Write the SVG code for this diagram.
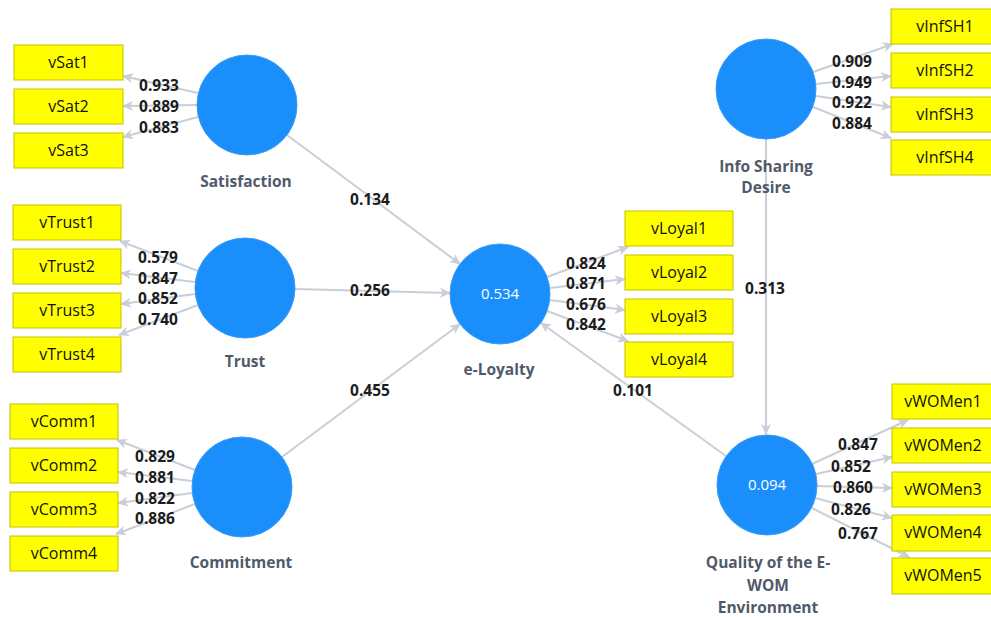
<svg xmlns="http://www.w3.org/2000/svg" width="991" height="617" viewBox="0 0 991 617">
<defs>
<style>
.bg{fill:#ffffff}
.lv circle{fill:#1a8ffc;stroke:#3a9cf5;stroke-width:1}
.lv .name{font-family:"Open Sans","Noto Sans",sans-serif;font-size:15.5px;font-weight:bold;fill:#4f5a6b;text-anchor:middle}
.lv .r2{font-family:"Open Sans","Noto Sans",sans-serif;font-size:15px;fill:#ffffff;text-anchor:middle}
.ind rect{fill:#ffff00;stroke:#c2c200;stroke-width:1}
.ind text{font-family:"Open Sans","Noto Sans",sans-serif;font-size:16px;fill:#111111;text-anchor:middle}
.edges line{stroke:#c9ced8;stroke-width:2;marker-end:url(#ah)}
.lbl text{font-family:"Open Sans","Noto Sans",sans-serif;font-size:15.5px;font-weight:bold;fill:#1c1c1c;text-anchor:middle}
</style>
<marker id="ah" markerWidth="12" markerHeight="10" refX="10" refY="5" orient="auto" markerUnits="userSpaceOnUse">
<path d="M0,0 L11,5 L0,10 L3,5 Z" fill="#c9ced8"/>
</marker>
</defs>
<rect class="bg" x="0" y="0" width="991" height="617"/>

<g id="connectors" class="edges">
<!-- structural paths -->
<line x1="287" y1="135" x2="460" y2="264"/>
<line x1="295" y1="289" x2="450" y2="293"/>
<line x1="282" y1="457" x2="460" y2="324"/>
<line x1="726" y1="456" x2="541" y2="323"/>
<line x1="766" y1="139" x2="766" y2="434"/>
<!-- Satisfaction loadings -->
<line x1="198" y1="93" x2="123" y2="76"/>
<line x1="197" y1="105" x2="123" y2="106"/>
<line x1="198" y1="117" x2="123" y2="137"/>
<!-- Trust loadings -->
<line x1="198" y1="271" x2="120" y2="241"/>
<line x1="195" y1="282" x2="121" y2="273"/>
<line x1="195" y1="294" x2="121" y2="304"/>
<line x1="198" y1="305" x2="119" y2="335"/>
<!-- Commitment loadings -->
<line x1="195" y1="470" x2="117" y2="440"/>
<line x1="192" y1="481" x2="118" y2="472"/>
<line x1="192" y1="493" x2="118" y2="503"/>
<line x1="195" y1="504" x2="116" y2="534"/>
<!-- e-Loyalty loadings -->
<line x1="547" y1="277" x2="628" y2="247"/>
<line x1="550" y1="288" x2="625" y2="279"/>
<line x1="550" y1="300" x2="625" y2="310"/>
<line x1="547" y1="311" x2="628" y2="341"/>
<!-- Info Sharing loadings -->
<line x1="813" y1="72" x2="893" y2="44"/>
<line x1="816" y1="84" x2="891" y2="76"/>
<line x1="816" y1="96" x2="891" y2="107"/>
<line x1="813" y1="107" x2="891" y2="138"/>
<!-- Quality loadings -->
<line x1="812" y1="464" x2="908" y2="420"/>
<line x1="816" y1="474" x2="892" y2="457"/>
<line x1="817" y1="486" x2="892" y2="488"/>
<line x1="815" y1="498" x2="892" y2="518"/>
<line x1="812" y1="508" x2="909" y2="557"/>
</g>

<g id="edge-labels" class="lbl">
<text x="370" y="205">0.134</text>
<text x="370" y="296">0.256</text>
<text x="370" y="396">0.455</text>
<text x="633" y="396">0.101</text>
<text x="765" y="294">0.313</text>
<text x="159" y="91">0.933</text>
<text x="159" y="112">0.889</text>
<text x="159" y="133">0.883</text>
<text x="158" y="263">0.579</text>
<text x="158" y="284">0.847</text>
<text x="158" y="304">0.852</text>
<text x="158" y="325">0.740</text>
<text x="155" y="462">0.829</text>
<text x="155" y="483">0.881</text>
<text x="155" y="504">0.822</text>
<text x="155" y="524">0.886</text>
<text x="586" y="269">0.824</text>
<text x="586" y="289">0.871</text>
<text x="586" y="310">0.676</text>
<text x="586" y="330">0.842</text>
<text x="852" y="67">0.909</text>
<text x="852" y="88">0.949</text>
<text x="852" y="108">0.922</text>
<text x="852" y="129">0.884</text>
<text x="858" y="450">0.847</text>
<text x="851" y="472">0.852</text>
<text x="853" y="493">0.860</text>
<text x="851" y="515">0.826</text>
<text x="858" y="539">0.767</text>
</g>

<g id="satisfaction" class="lv">
<circle cx="247" cy="105" r="50"/>
<text class="name" x="246" y="187">Satisfaction</text>
</g>
<g id="trust" class="lv">
<circle cx="245" cy="288" r="50"/>
<text class="name" x="245" y="367">Trust</text>
</g>
<g id="commitment" class="lv">
<circle cx="242" cy="487" r="50"/>
<text class="name" x="241" y="568">Commitment</text>
</g>
<g id="eloyalty" class="lv">
<circle cx="500" cy="294" r="50"/>
<text class="r2" x="500" y="299">0.534</text>
<text class="name" x="499" y="375">e-Loyalty</text>
</g>
<g id="infosharing" class="lv">
<circle cx="766" cy="89" r="50"/>
<text class="name" x="766" y="172">Info Sharing</text>
<text class="name" x="766" y="193">Desire</text>
</g>
<g id="quality" class="lv">
<circle cx="767" cy="485" r="50"/>
<text class="r2" x="767" y="490">0.094</text>
<text class="name" x="768" y="568">Quality of the E-</text>
<text class="name" x="768" y="591">WOM</text>
<text class="name" x="768" y="613">Environment</text>
</g>

<g id="vSat1" class="ind"><rect x="14" y="45" width="109" height="35"/><text x="68.5" y="68">vSat1</text></g>
<g id="vSat2" class="ind"><rect x="14" y="89" width="109" height="35"/><text x="68.5" y="112">vSat2</text></g>
<g id="vSat3" class="ind"><rect x="14" y="133" width="109" height="35"/><text x="68.5" y="156">vSat3</text></g>

<g id="vTrust1" class="ind"><rect x="13" y="205" width="108" height="35"/><text x="67" y="228">vTrust1</text></g>
<g id="vTrust2" class="ind"><rect x="13" y="249" width="108" height="35"/><text x="67" y="272">vTrust2</text></g>
<g id="vTrust3" class="ind"><rect x="13" y="293" width="108" height="35"/><text x="67" y="316">vTrust3</text></g>
<g id="vTrust4" class="ind"><rect x="13" y="337" width="108" height="35"/><text x="67" y="360">vTrust4</text></g>

<g id="vComm1" class="ind"><rect x="10" y="404" width="108" height="35"/><text x="64" y="427">vComm1</text></g>
<g id="vComm2" class="ind"><rect x="10" y="448" width="108" height="35"/><text x="64" y="471">vComm2</text></g>
<g id="vComm3" class="ind"><rect x="10" y="492" width="108" height="35"/><text x="64" y="515">vComm3</text></g>
<g id="vComm4" class="ind"><rect x="10" y="536" width="108" height="35"/><text x="64" y="559">vComm4</text></g>

<g id="vLoyal1" class="ind"><rect x="625" y="211" width="108" height="35"/><text x="679" y="234">vLoyal1</text></g>
<g id="vLoyal2" class="ind"><rect x="625" y="255" width="108" height="35"/><text x="679" y="278">vLoyal2</text></g>
<g id="vLoyal3" class="ind"><rect x="625" y="299" width="108" height="35"/><text x="679" y="322">vLoyal3</text></g>
<g id="vLoyal4" class="ind"><rect x="625" y="342" width="108" height="35"/><text x="679" y="365">vLoyal4</text></g>

<g id="vInfSH1" class="ind"><rect x="891" y="9" width="108" height="35"/><text x="945" y="32">vInfSH1</text></g>
<g id="vInfSH2" class="ind"><rect x="891" y="53" width="108" height="35"/><text x="945" y="76">vInfSH2</text></g>
<g id="vInfSH3" class="ind"><rect x="891" y="97" width="108" height="35"/><text x="945" y="120">vInfSH3</text></g>
<g id="vInfSH4" class="ind"><rect x="891" y="140" width="108" height="35"/><text x="945" y="163">vInfSH4</text></g>

<g id="vWOMen1" class="ind"><rect x="892" y="384" width="108" height="35"/><text x="943" y="407">vWOMen1</text></g>
<g id="vWOMen2" class="ind"><rect x="892" y="428" width="108" height="35"/><text x="943" y="451">vWOMen2</text></g>
<g id="vWOMen3" class="ind"><rect x="892" y="472" width="108" height="35"/><text x="943" y="495">vWOMen3</text></g>
<g id="vWOMen4" class="ind"><rect x="892" y="515" width="108" height="36"/><text x="943" y="538">vWOMen4</text></g>
<g id="vWOMen5" class="ind"><rect x="892" y="558" width="108" height="36"/><text x="943" y="581">vWOMen5</text></g>
</svg>
